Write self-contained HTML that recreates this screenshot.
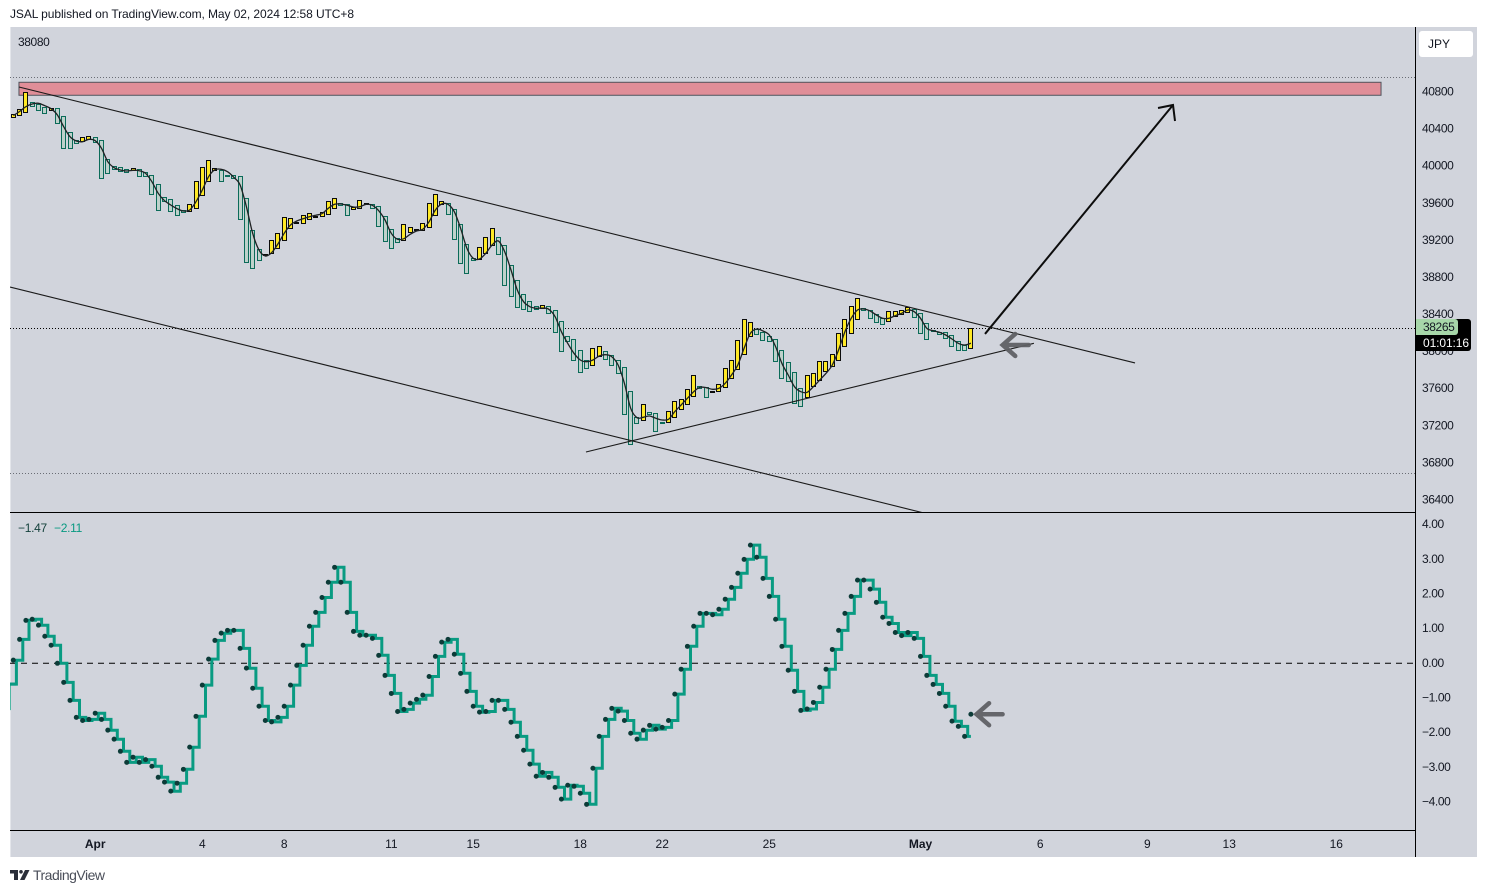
<!DOCTYPE html>
<html lang="en">
<head>
<meta charset="utf-8">
<title>JSAL TradingView chart</title>
<style>
html,body{margin:0;padding:0;background:#fff;width:1487px;height:893px;overflow:hidden}
svg{display:block;font-family:"Liberation Sans",Arial,sans-serif}
text{fill:#131722;font-size:12px}
.tick{letter-spacing:-.4px}
</style>
</head>
<body>
<svg id="chart" xmlns="http://www.w3.org/2000/svg" width="1487" height="893" viewBox="0 0 1487 893">
  <defs>
    <clipPath id="price-clip"><rect x="10" y="27" width="1405" height="486"/></clipPath>
    <clipPath id="osc-clip"><rect x="10" y="514" width="1405" height="316"/></clipPath>
  </defs>
  <text x="10" y="18" textLength="344" lengthAdjust="spacing" style="font-size:12px">JSAL published on TradingView.com, May 02, 2024 12:58 UTC+8</text>
  <rect x="10" y="27" width="1467" height="830" fill="#d1d4dc"/>
  <rect x="10" y="27" width="1" height="830" fill="#e4e6eb"/>
  <g id="price-pane" clip-path="url(#price-clip)"></g>
  <g id="osc-pane" clip-path="url(#osc-clip)"></g>
  <line x1="10" x2="1415" y1="512.5" y2="512.5" stroke="#000" stroke-width="1"/>
  <line x1="10" x2="1415" y1="830.5" y2="830.5" stroke="#000" stroke-width="1"/>
  <line x1="1415.5" x2="1415.5" y1="27" y2="857" stroke="#000" stroke-width="1"/>
  <g id="axis-labels"></g>
  <text x="18" y="46" class="tick" style="font-size:12px">38080</text>
  <text x="18" y="532" style="font-size:12px;fill:#123f3a" letter-spacing="-.3">−1.47</text>
  <text x="54" y="532" style="font-size:12px;fill:#089981" letter-spacing="-.3">−2.11</text>
  <rect x="1419" y="31" width="54" height="26" rx="3" fill="#fff"/>
  <text x="1428" y="48" style="font-size:12px">JPY</text>
  <path d="M1416 319H1468a3 3 0 0 1 3 3V348a3 3 0 0 1 -3 3H1416Z" fill="#000"/>
  <path d="M1416 319H1455a3 3 0 0 1 3 3V332a3 3 0 0 1 -3 3H1416Z" fill="#a7d7a9"/>
  <text x="1423" y="331" class="tick">38265</text>
  <text x="1423" y="347" style="font-size:12px;fill:#fff" letter-spacing="-.1">01:01:16</text>
  <g>
    <path fill="#2a2e39" d="M10 870H18V880H14V873.5H10Z"/>
    <circle cx="21" cy="871.8" r="1.8" fill="#2a2e39"/>
    <path fill="#2a2e39" d="M25 870H29.5L24.5 880H20Z"/>
    <text x="33" y="880" textLength="72" lengthAdjust="spacing" style="font-size:14px;fill:#4a4e59">TradingView</text>
  </g>
</svg>
<script>
const opens = [40523,40538,40570,40678,40663,40631,40592,40613,40527,40355,40275,40258,40279,40301,40268,40063,39988,39977,39956,39945,39956,39923,39891,39794,39654,39632,39567,39513,39503,39535,39675,39826,39945,39945,39891,39891,39880,39643,39298,39093,39031,39050,39110,39190,39319,39388,39373,39416,39452,39449,39470,39535,39589,39578,39524,39535,39578,39578,39557,39449,39309,39212,39190,39276,39305,39298,39330,39460,39578,39589,39524,39362,39147,38996,38985,39050,39136,39222,39136,38920,38759,38608,38532,38478,38457,38478,38435,38316,38155,38122,38004,37896,37842,37939,37993,37950,37896,37820,37562,37281,37249,37335,37325,37227,37227,37281,37367,37421,37508,37615,37604,37551,37562,37604,37702,37799,37961,38155,38230,38198,38155,38122,38004,37874,37766,37594,37497,37615,37680,37777,37831,37896,38047,38187,38338,38457,38435,38392,38349,38316,38370,38392,38414,38446,38403,38295,38219,38198,38198,38165,38101,38058,38025];
const closes = [40549,40603,40792,40635,40598,40560,40620,40452,40182,40182,40242,40301,40311,40247,39859,39912,39962,39934,39923,39966,39880,39880,39686,39513,39611,39503,39460,39492,39578,39826,39977,40053,39966,39826,39887,39865,39416,38953,38888,38974,39045,39190,39265,39438,39427,39391,39460,39481,39455,39492,39611,39643,39567,39460,39546,39621,39589,39535,39341,39179,39104,39168,39362,39330,39309,39373,39589,39686,39611,39470,39201,38942,38834,38974,39114,39222,39319,39039,38705,38586,38467,38446,38424,38446,38489,38403,38198,37993,38101,37896,37766,37810,38025,38047,37907,37842,37756,37314,36990,37216,37421,37314,37130,37216,37346,37454,37475,37583,37734,37594,37497,37562,37637,37810,37896,38112,38338,38306,38176,38112,38101,37885,37702,37669,37432,37400,37734,37756,37885,37885,37961,38187,38338,38478,38564,38435,38349,38306,38284,38424,38424,38435,38467,38360,38187,38122,38212,38176,38133,38047,38004,38004,38241];
const maValues = [40536,40579,40631,40660,40667,40641,40609,40541,40415,40307,40261,40253,40279,40264,40182,40038,39973,39948,39937,39945,39941,39912,39822,39697,39617,39571,39531,39506,39517,39606,39732,39876,39951,39956,39930,39869,39786,39552,39265,39085,39021,39056,39150,39265,39355,39398,39423,39444,39460,39477,39535,39578,39581,39567,39549,39552,39578,39567,39509,39409,39265,39201,39207,39255,39290,39309,39391,39517,39581,39578,39498,39319,39104,38996,38988,39050,39139,39182,39067,38870,38654,38528,38474,38457,38460,38446,38366,38204,38079,37971,37899,37881,37899,37942,37956,37935,37845,37648,37378,37277,37281,37295,37270,37252,37260,37342,37414,37486,37557,37605,37600,37583,37594,37648,37737,37845,38025,38187,38233,38212,38169,38043,37863,37737,37611,37557,37551,37611,37683,37756,37845,38007,38204,38349,38438,38449,38428,38384,38349,38349,38377,38403,38438,38420,38349,38241,38215,38198,38169,38126,38079,38061,38079];
const oscValues = [0.09,0.69,1.24,1.27,1.10,0.78,0.52,0.00,-0.55,-1.07,-1.56,-1.65,-1.62,-1.44,-1.62,-1.93,-2.19,-2.54,-2.86,-2.71,-2.86,-2.78,-2.97,-3.29,-3.43,-3.69,-3.46,-3.06,-2.42,-1.53,-0.63,0.12,0.66,0.87,0.95,0.95,0.43,-0.14,-0.72,-1.24,-1.65,-1.69,-1.56,-1.24,-0.63,-0.06,0.52,1.07,1.47,1.90,2.34,2.77,2.34,1.47,0.92,0.81,0.81,0.72,0.23,-0.35,-0.87,-1.39,-1.33,-1.15,-1.04,-0.92,-0.38,0.20,0.61,0.69,0.26,-0.29,-0.81,-1.24,-1.41,-1.39,-1.07,-1.07,-1.33,-1.70,-2.11,-2.51,-2.91,-3.26,-3.15,-3.29,-3.58,-3.92,-3.52,-3.55,-3.75,-4.07,-3.03,-2.11,-1.62,-1.30,-1.38,-1.65,-2.02,-2.19,-1.93,-1.79,-1.90,-1.85,-1.65,-0.89,-0.17,0.49,1.07,1.44,1.44,1.40,1.56,1.85,2.19,2.60,3.00,3.41,3.06,2.45,1.93,1.27,0.49,-0.20,-0.81,-1.36,-1.32,-1.13,-0.69,-0.17,0.40,0.95,1.44,1.93,2.40,2.40,2.14,1.76,1.33,1.15,0.89,0.80,0.89,0.72,0.20,-0.35,-0.61,-0.87,-1.24,-1.67,-1.82,-2.11,-1.47];
const signalValues = [-0.60,0.09,0.69,1.24,1.27,1.10,0.78,0.52,0.00,-0.55,-1.07,-1.56,-1.65,-1.62,-1.44,-1.62,-1.93,-2.19,-2.54,-2.86,-2.71,-2.86,-2.78,-2.97,-3.29,-3.43,-3.69,-3.46,-3.06,-2.42,-1.53,-0.63,0.12,0.66,0.87,0.95,0.95,0.43,-0.14,-0.72,-1.24,-1.65,-1.69,-1.56,-1.24,-0.63,-0.06,0.52,1.07,1.47,1.90,2.34,2.77,2.34,1.47,0.92,0.81,0.81,0.72,0.23,-0.35,-0.87,-1.39,-1.33,-1.15,-1.04,-0.92,-0.38,0.20,0.61,0.69,0.26,-0.29,-0.81,-1.24,-1.41,-1.39,-1.07,-1.07,-1.33,-1.70,-2.11,-2.51,-2.91,-3.26,-3.15,-3.29,-3.58,-3.92,-3.52,-3.55,-3.75,-4.07,-3.03,-2.11,-1.62,-1.30,-1.38,-1.65,-2.02,-2.19,-1.93,-1.79,-1.90,-1.85,-1.65,-0.89,-0.17,0.49,1.07,1.44,1.44,1.40,1.56,1.85,2.19,2.60,3.00,3.41,3.06,2.45,1.93,1.27,0.49,-0.20,-0.81,-1.36,-1.32,-1.13,-0.69,-0.17,0.40,0.95,1.44,1.93,2.40,2.40,2.14,1.76,1.33,1.15,0.89,0.80,0.89,0.72,0.20,-0.35,-0.61,-0.87,-1.24,-1.67,-1.82,-2.11];
const priceTicks = [40800,40400,40000,39600,39200,38800,38400,38000,37600,37200,36800,36400];
const oscTicks = [4,3,2,1,0,-1,-2,-3,-4];
const timeLabels = ["Apr","4","8","11","15","18","22","25","May","6","9","13","16"];
const timeBars = [13,30,43,60,73,90,103,120,144,163,180,193,210];
const boldLabels = ["Apr","May"];
const upperTrendBars = [0.9,178.05];
const upperTrendPrices = [40843,37867];
const lowerTrendBars = [-0.52,144.55];
const lowerTrendPrices = [38686,36249];
const supportBars = [90.9,162];
const supportPrices = [36907,38079];
const forecastBars = [154.24,184.08];
const forecastPrices = [38180,40649];
const zoneBars = [0.9,217.1];
const zonePrices = [40894,40754];
const levelPrices = [40956,36680];

const NS = 'http://www.w3.org/2000/svg';
const xB = b => 13.3 + 6.3 * b;
const yP = p => 91 + (40800 - p) * 0.092727;
const yO = v => 663.3 - 34.65 * v;
const make = (tag, parent) => { const el = document.createElementNS(NS, tag); parent.appendChild(el); return el; };
const price = document.getElementById('price-pane');
const osc = document.getElementById('osc-pane');
const labels = document.getElementById('axis-labels');

// Resistance zone
const zone = make('rect', price);


zone.setAttribute('x', xB(zoneBars[0]));
zone.setAttribute('y', yP(zonePrices[0]));
zone.setAttribute('width', xB(zoneBars[1]) - xB(zoneBars[0]));
zone.setAttribute('height', yP(zonePrices[1]) - yP(zonePrices[0]));
zone.setAttribute('fill', '#e08e98');
zone.setAttribute('stroke', '#50535c');

// Horizontal levels
levelPrices.forEach(p => {
  const l = make('line', price);
  
  
  const y = Math.round(yP(p)) + 0.5;
  l.setAttribute('x1', 10); l.setAttribute('x2', 1415);
  l.setAttribute('y1', y); l.setAttribute('y2', y);
  l.setAttribute('stroke', '#6a6d75');
  l.setAttribute('stroke-dasharray', '1 2');
});
const lastLine = make('line', price);


const lastY = Math.round(yP(closes[closes.length - 1])) + 0.5;
lastLine.setAttribute('x1', 10); lastLine.setAttribute('x2', 1415);
lastLine.setAttribute('y1', lastY); lastLine.setAttribute('y2', lastY);
lastLine.setAttribute('stroke', '#000');
lastLine.setAttribute('stroke-dasharray', '1 2');

// Candles
opens.forEach((o, i) => {
  const c = closes[i];
  const up = c >= o;
  const r = make('rect', price);
  
  
  const top = Math.round(yP(Math.max(o, c)));
  const bot = Math.round(yP(Math.min(o, c)));
  r.setAttribute('x', Math.floor(xB(i)) - 2 + 0.5);
  r.setAttribute('y', top + 0.5);
  r.setAttribute('width', 4);
  r.setAttribute('height', Math.max(1, bot - top));
  r.setAttribute('fill', up ? '#ffe926' : '#bed1cb');
  r.setAttribute('stroke', up ? '#0c0c0c' : '#0b6b59');
});

// Moving average (smooth curve through values)
const maPts = maValues.map((v, i) => [xB(i), yP(v)]);
let maD = 'M' + maPts[0][0] + ' ' + maPts[0][1];
for (let i = 0; i < maPts.length - 1; i++) {
  const p0 = maPts[Math.max(0, i - 1)], p1 = maPts[i], p2 = maPts[i + 1], p3 = maPts[Math.min(maPts.length - 1, i + 2)];
  maD += ' C' + (p1[0] + (p2[0] - p0[0]) / 6).toFixed(1) + ' ' + (p1[1] + (p2[1] - p0[1]) / 6).toFixed(1) + ' ' +
    (p2[0] - (p3[0] - p1[0]) / 6).toFixed(1) + ' ' + (p2[1] - (p3[1] - p1[1]) / 6).toFixed(1) + ' ' + p2[0].toFixed(1) + ' ' + p2[1].toFixed(1);
}
const ma = make('path', price);


ma.setAttribute('d', maD);
ma.setAttribute('fill', 'none');
ma.setAttribute('stroke', '#1f2224');
ma.setAttribute('stroke-width', '1.3');

// Trend lines
const upperTrend = make('line', price);


upperTrend.setAttribute('x1', xB(upperTrendBars[0])); upperTrend.setAttribute('y1', yP(upperTrendPrices[0]));
upperTrend.setAttribute('x2', xB(upperTrendBars[1])); upperTrend.setAttribute('y2', yP(upperTrendPrices[1]));
const lowerTrend = make('line', price);


lowerTrend.setAttribute('x1', xB(lowerTrendBars[0])); lowerTrend.setAttribute('y1', yP(lowerTrendPrices[0]));
lowerTrend.setAttribute('x2', xB(lowerTrendBars[1])); lowerTrend.setAttribute('y2', yP(lowerTrendPrices[1]));
const support = make('line', price);


support.setAttribute('x1', xB(supportBars[0])); support.setAttribute('y1', yP(supportPrices[0]));
support.setAttribute('x2', xB(supportBars[1])); support.setAttribute('y2', yP(supportPrices[1]));
[upperTrend, lowerTrend, support].forEach(l => { l.setAttribute('stroke', '#1a1a1a'); l.setAttribute('stroke-width', '1.1'); });

// Forecast arrow
const fx1 = xB(forecastBars[0]), fy1 = yP(forecastPrices[0]), fx2 = xB(forecastBars[1]), fy2 = yP(forecastPrices[1]);
const forecast = make('path', price);


forecast.setAttribute('d', 'M' + fx1 + ' ' + fy1 + 'L' + fx2 + ' ' + fy2 + 'M' + (fx2 - 15) + ' ' + (fy2 + 3) + 'L' + fx2 + ' ' + fy2 + 'L' + (fx2 + 2) + ' ' + (fy2 + 16));
forecast.setAttribute('fill', 'none');
forecast.setAttribute('stroke', '#0d0d0d');
forecast.setAttribute('stroke-width', '2');

const arrowPath = (x, y) => 'M' + (x + 26) + ' ' + y + 'H' + x + 'M' + (x + 12.5) + ' ' + (y - 11) + 'L' + x + ' ' + y + 'L' + (x + 12.5) + ' ' + (y + 11);
const priceArrow = make('path', price);


priceArrow.setAttribute('d', arrowPath(xB(157.05), yP(38061)));
const oscArrow = make('path', osc);


oscArrow.setAttribute('d', arrowPath(xB(152.9), yO(-1.47)));
[priceArrow, oscArrow].forEach(a => {
  a.setAttribute('fill', 'none');
  a.setAttribute('stroke', '#5f6064');
  a.setAttribute('stroke-opacity', '.95');
  a.setAttribute('stroke-width', '4.5');
  a.setAttribute('stroke-linecap', 'round');
});

// Oscillator
const zero = make('line', osc);


zero.setAttribute('x1', 10); zero.setAttribute('x2', 1415);
zero.setAttribute('y1', yO(0)); zero.setAttribute('y2', yO(0));
zero.setAttribute('stroke', '#000');
zero.setAttribute('stroke-dasharray', '6 5');

let sD = 'M' + (xB(0) - 3.15) + ' ' + yO(signalValues[0]);
signalValues.forEach((v, i) => {
  if (i > 0) sD += ' V' + yO(v).toFixed(1);
  sD += ' H' + (i === signalValues.length - 1 ? xB(i) : xB(i) + 3.15).toFixed(1);
});
const startStub = make('line', osc);


startStub.setAttribute('x1', 10.5); startStub.setAttribute('x2', 10.5);
startStub.setAttribute('y1', yO(signalValues[0])); startStub.setAttribute('y2', yO(-1.35));
startStub.setAttribute('stroke', '#4fb8a4');
const startSeg = make('line', osc);


startSeg.setAttribute('x1', 10); startSeg.setAttribute('x2', xB(0) + 3);
startSeg.setAttribute('y1', yO(signalValues[0])); startSeg.setAttribute('y2', yO(signalValues[0]));
startSeg.setAttribute('stroke', '#089981');
startSeg.setAttribute('stroke-width', '3');
const sig = make('path', osc);


sig.setAttribute('d', sD);
sig.setAttribute('fill', 'none');
sig.setAttribute('stroke', '#099b82');
sig.setAttribute('stroke-width', '3');
oscValues.forEach((v, i) => {
  const d = make('circle', osc);
  
  
  d.setAttribute('cx', xB(i));
  d.setAttribute('cy', yO(v));
  d.setAttribute('r', 2.5);
  d.setAttribute('fill', '#0c3b38');
});

// Axis labels
priceTicks.forEach(p => {
  const t = make('text', labels);
  
  
  t.setAttribute('class', 'tick');
  t.setAttribute('x', 1422);
  t.setAttribute('y', yP(p) + 4.5);
  t.textContent = String(p);
  labels.insertBefore(t, labels.firstChild);
});
oscTicks.forEach(v => {
  const t = make('text', labels);
  
  
  t.setAttribute('class', 'tick');
  t.setAttribute('x', 1422);
  t.setAttribute('y', yO(v) + 3.5);
  t.textContent = (v < 0 ? '−' : '') + Math.abs(v).toFixed(2);
});
timeLabels.forEach((s, i) => {
  const t = make('text', labels);
  
  
  t.setAttribute('x', xB(timeBars[i]));
  t.setAttribute('y', 848);
  t.setAttribute('text-anchor', 'middle');
  if (boldLabels.includes(s)) t.setAttribute('font-weight', 'bold');
  t.textContent = s;
});
</script>
</body>
</html>
